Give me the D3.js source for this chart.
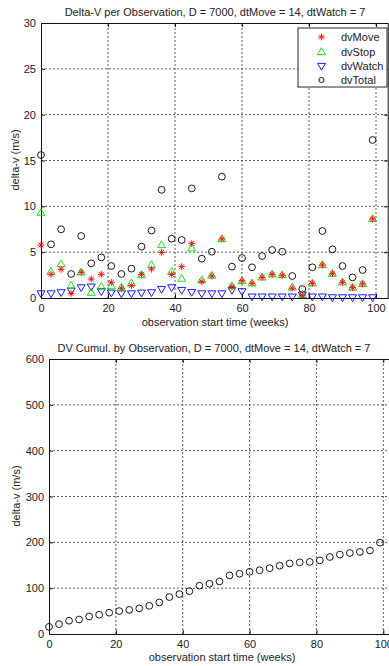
<!DOCTYPE html>
<html><head><meta charset="utf-8">
<script src="https://cdn.jsdelivr.net/npm/d3@7"></script>
<style>
html,body{margin:0;padding:0;background:#fff;}
text{font-family:"Liberation Sans",Arial,sans-serif;fill:#222;}
</style></head>
<body>
<svg id="c" width="389" height="666"></svg>
<script>
const weeks = [0,3,6,9,12,15,18,21,24,27,30,33,36,39,42,45,48,51,54,57,60,63,66,69,72,75,78,81,84,87,90,93,96,99];
const dvMove = [5.78,2.58,3.13,0.5,2.8,2.07,2.58,1.71,1.06,1.35,2.58,3.16,4.98,2.58,3.42,5.96,1.78,2.4,6.44,1.24,1.89,1.6,2.25,2.58,2.47,1.06,0.3,1.6,3.6,2.65,1.71,1.13,1.53,8.62];
const dvStop = [9.3,2.87,3.7,1.35,2.8,0.58,1.24,1.3,1.13,1.6,2.5,3.6,5.78,2.87,2.11,5.42,1.96,2.45,6.44,1.3,1.85,1.6,2.25,2.58,2.5,1.16,0.35,1.6,3.6,2.65,1.71,1.13,1.53,8.62];
const dvWatch = [0.5,0.5,0.62,0.8,1.16,1.24,0.73,0.58,0.5,0.5,0.58,0.62,0.98,1.16,0.87,0.65,0.5,0.5,0.5,0.87,0.73,0.15,0.15,0.15,0.15,0.15,0.36,0.15,0.15,0.07,0.07,0.07,0.07,0.07];
const dvTotal = [15.6,5.85,7.49,2.62,6.76,3.78,4.43,3.49,2.62,3.2,5.6,7.35,11.8,6.47,6.33,11.96,4.29,5.05,13.24,3.42,4.36,3.35,4.58,5.24,5.05,2.4,0.98,3.35,7.31,5.31,3.49,2.25,3.05,17.24];
const dvCumul = [15.6,21.5,28.9,31.6,38.3,42.1,46.5,50.0,52.6,55.8,61.4,68.8,80.6,87.1,93.4,105.4,109.6,114.7,127.9,131.4,135.7,139.1,143.6,148.9,153.9,156.3,157.3,160.7,168.0,173.3,176.8,179.0,182.1,199.3];
const xTicks = [0,20,40,60,80,100];
const yTicksTop = [0,5,10,15,20,25,30];
const yTicksBot = [0,100,200,300,400,500,600];
const seriesNames = ["dvMove","dvStop","dvWatch","dvTotal"];
const title1 = "Delta-V per Observation, D = 7000, dtMove = 14, dtWatch = 7";
const title2 = "DV Cumul. by Observation, D = 7000, dtMove = 14, dtWatch = 7";
const xLabel = "observation start time (weeks)";
const yLabel = "delta-v (m/s)";

const svg = d3.select("#c");
const FS = 10.5;

function star(g, x, y, color){
  const s = 3.4, d = 2.4;
  g.append("path").attr("d",`M${x-s},${y}L${x+s},${y}M${x},${y-s}L${x},${y+s}M${x-d},${y-d}L${x+d},${y+d}M${x-d},${y+d}L${x+d},${y-d}`)
   .attr("stroke",color).attr("stroke-width",0.9).attr("fill","none");
}
function triUp(g,x,y,color){
  g.append("path").attr("d",`M${x},${y-4.2}L${x+4},${y+2.6}L${x-4},${y+2.6}Z`).attr("stroke",color).attr("stroke-width",0.9).attr("fill","none");
}
function triDown(g,x,y,color){
  g.append("path").attr("d",`M${x},${y+4.2}L${x+4},${y-2.6}L${x-4},${y-2.6}Z`).attr("stroke",color).attr("stroke-width",0.9).attr("fill","none");
}
function circ(g,x,y,color){
  g.append("circle").attr("cx",x).attr("cy",y).attr("r",3.4).attr("stroke",color).attr("stroke-width",0.9).attr("fill","none");
}

function frame(x, y, yTicks, opts){
  const g = svg.append("g");
  const [x0,x1] = x.range(), [y0,y1] = y.range();
  // grid
  xTicks.forEach(t=>{ if(t>0) g.append("line").attr("x1",x(t)).attr("x2",x(t)).attr("y1",y0).attr("y2",y1)
      .attr("stroke","#333").attr("stroke-width",0.8).attr("stroke-dasharray","2,2"); });
  yTicks.forEach(t=>{ if(t>y.domain()[0] && t<y.domain()[1]) g.append("line").attr("x1",x0).attr("x2",x1).attr("y1",y(t)).attr("y2",y(t))
      .attr("stroke","#333").attr("stroke-width",0.8).attr("stroke-dasharray","2,2"); });
  // axes (inward ticks)
  const ax = g.append("g").attr("transform",`translate(0,${y0})`).call(d3.axisBottom(x).tickValues(xTicks).tickSizeInner(-4).tickSizeOuter(0).tickPadding(6));
  const axT = g.append("g").attr("transform",`translate(0,${y1})`).call(d3.axisTop(x).tickValues(xTicks).tickSizeInner(-4).tickSizeOuter(0).tickFormat(""));
  const ay = g.append("g").attr("transform",`translate(${x0},0)`).call(d3.axisLeft(y).tickValues(yTicks).tickSizeInner(-4).tickSizeOuter(0).tickPadding(5));
  const ayR = g.append("g").attr("transform",`translate(${x1},0)`).call(d3.axisRight(y).tickValues(yTicks).tickSizeInner(-4).tickSizeOuter(0).tickFormat(""));
  [ax,axT,ay,ayR].forEach(a=>{ a.select(".domain").attr("stroke","#111"); a.selectAll(".tick line").attr("stroke","#111");
     a.selectAll("text").attr("font-size",FS+0.5).attr("font-family","Liberation Sans, Arial, sans-serif").attr("fill","#222"); });
  return g;
}

// ---- top chart
const xA = d3.scaleLinear().domain([0,103.5]).range([41,41+103.5*3.35]);
const yA = d3.scaleLinear().domain([0,30]).range([298,23]);
const gA = frame(xA,yA,yTicksTop);
const mA = svg.append("g");
weeks.forEach((w,i)=>{
  circ(mA,xA(w),yA(dvTotal[i]),"#000");
  triDown(mA,xA(w),yA(dvWatch[i]),"#0000ff");
  triUp(mA,xA(w),yA(dvStop[i]),"#00dd00");
  star(mA,xA(w),yA(dvMove[i]),"#ff0000");
});
svg.append("text").attr("x",215).attr("y",16).attr("text-anchor","middle").attr("font-size",FS+0.5).text(title1);
svg.append("text").attr("x",215).attr("y",326).attr("text-anchor","middle").attr("font-size",FS+0.5).text(xLabel);
svg.append("text").attr("transform","translate(19,160) rotate(-90)").attr("text-anchor","middle").attr("font-size",FS+0.5).text(yLabel);

// legend
const lg = svg.append("g");
lg.append("rect").attr("x",298).attr("y",28).attr("width",89).attr("height",59).attr("fill","#fff").attr("stroke","#111").attr("stroke-width",0.9);
const legY = [37,52,66,80];
const legFns = [(x,y)=>star(lg,x,y,"#ff0000"),(x,y)=>triUp(lg,x,y,"#00dd00"),(x,y)=>triDown(lg,x,y,"#0000ff"),(x,y)=>lg.append("circle").attr("cx",x).attr("cy",y).attr("r",2.6).attr("stroke","#000").attr("stroke-width",0.9).attr("fill","none")];
seriesNames.forEach((n,i)=>{
  legFns[i](321.5, legY[i]);
  lg.append("text").attr("x",341).attr("y",legY[i]+4).attr("font-size",FS+0.5).text(n);
});

// ---- bottom chart
const xB = d3.scaleLinear().domain([0,103.5]).range([49,49+103.5*3.343]);
const yB = d3.scaleLinear().domain([0,600]).range([634,359]);
frame(xB,yB,yTicksBot);
const mB = svg.append("g");
weeks.forEach((w,i)=> circ(mB,xB(w),yB(dvCumul[i]),"#000"));
svg.append("text").attr("x",214).attr("y",352).attr("text-anchor","middle").attr("font-size",FS+0.5).text(title2);
svg.append("text").attr("x",222).attr("y",661).attr("text-anchor","middle").attr("font-size",FS+0.5).text(xLabel);
svg.append("text").attr("transform","translate(20,496) rotate(-90)").attr("text-anchor","middle").attr("font-size",FS+0.5).text(yLabel);
</script>
</body></html>
